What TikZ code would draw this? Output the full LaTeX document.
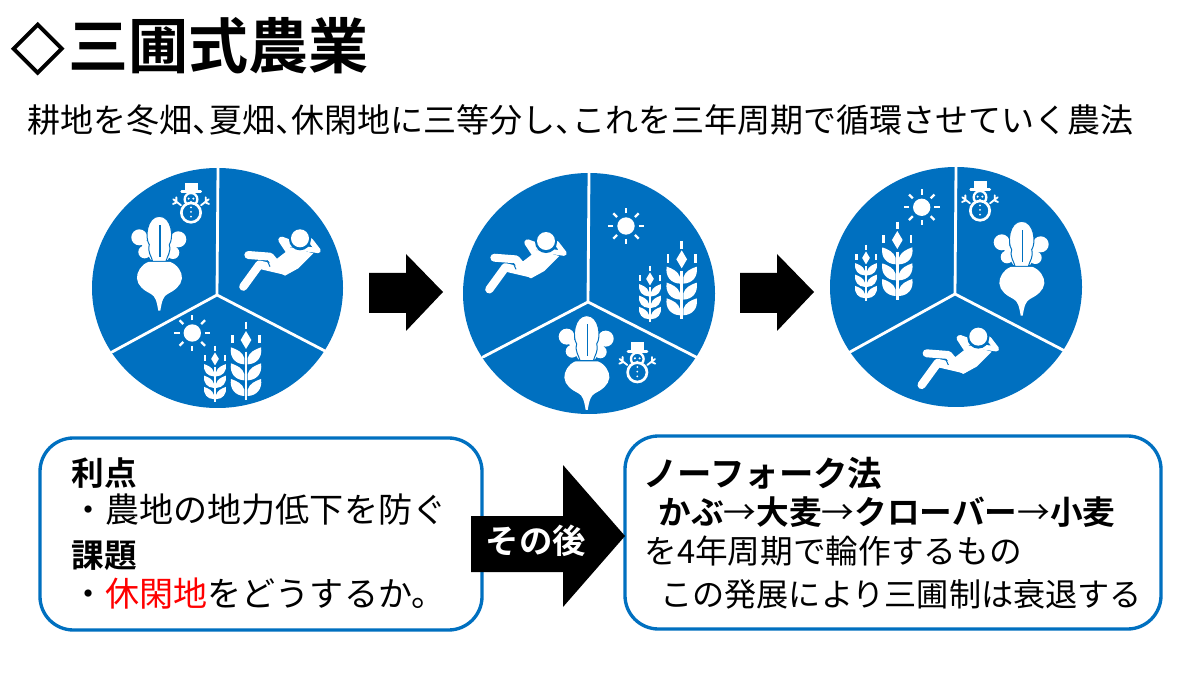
\documentclass[tikz,border=0pt]{standalone}
\usepackage{fontspec}
\setmainfont{Noto Sans CJK JP}[BoldFont={Noto Sans CJK JP Bold}]
\newfontfamily\diamondfont{Noto Sans CJK JP Bold}[FakeBold=3]
\usetikzlibrary{shapes.geometric}
\definecolor{fieldblue}{HTML}{0070C0}
\newcommand{\zpx}{0.189pt}
\newcommand{\hp}{\hbox to .5em{、\hss}}
\tikzset{
  x=0.02cm,y=-0.02cm,
  field/.style={fill=fieldblue,draw=none},
  spoke/.style={draw=white,line width=1.6pt,line cap=round},
  blockarrow/.style={fill=black,draw=none},
  infobox/.style={draw=fieldblue,line width=1.9pt,fill=white,rounded corners=19pt},
  txt/.style={anchor=west,inner sep=0pt,font=\fontsize{18.6pt}{20pt}\selectfont},
  txtwide/.style={anchor=west,inner sep=0pt,font=\fontsize{19.4pt}{21pt}\selectfont},
  txtb/.style={anchor=west,inner sep=0pt,font=\fontsize{18.6pt}{20pt}\selectfont\bfseries},
  turnip/.pic={\begin{scope}[scale=0.3333]
    \fill[white] (-60,-80) circle (24) (-44,-36) circle (19) (57,-74) circle (24) (41,-34) circle (19);
    \fill[white] (-60,-70) -- (-25,-12) -- (25,-12) -- (58,-65) -- (0,-70) -- cycle;
    \fill[white,draw=fieldblue,line width=3*\zpx] (-20,-8) .. controls (-24,-25) and (-36,-35) .. (-30,-58)
      .. controls (-44,-78) and (-38,-143) .. (0,-143)
      .. controls (38,-143) and (44,-78) .. (30,-58)
      .. controls (36,-35) and (24,-25) .. (20,-8) -- cycle;
    \draw[fieldblue,line width=4*\zpx] (2,-117) -- (2,-22);
    \fill[white] (-33,-6) -- (33,-6) .. controls (55,2) and (69,25) .. (68,43)
      .. controls (66,65) and (45,80) .. (25,90) .. controls (12,97) and (8,110) .. (3,140)
      -- (-3,140) .. controls (-8,110) and (-12,97) .. (-25,90)
      .. controls (-45,80) and (-66,65) .. (-67,43) .. controls (-68,25) and (-55,2) .. (-33,-6) -- cycle;
  \end{scope}},
  manicon/.pic={\begin{scope}[scale=0.3333]
    \draw[white,line width=25*\zpx,line cap=round,line join=round] (-110,80) -- (-62,14) -- (15,32);
    \draw[white,line width=24*\zpx,line cap=round,line join=round] (-95,-15) -- (-30,-10) -- (-5,20);
    \fill[white] (-14,0) -- (35,-38) -- (100,-20) -- (55,25) -- (15,47) -- (-15,30) -- cycle;
    \draw[fieldblue,line width=3*\zpx] (-38,2) -- (-30,20);
    \draw[white,line width=20*\zpx,line cap=round,line join=round] (5,-60) -- (38,-48) (5,-60) -- (30,-22);
    \draw[white,line width=15*\zpx,line cap=round,line join=round] (65,-35) -- (115,-28) -- (92,-58);
    \fill[fieldblue] (60,-62) circle (33);
    \fill[white] (60,-65) circle (27);
  \end{scope}},
  sunicon/.pic={\begin{scope}[scale=0.3333]
    \fill[white] (0,0) circle (26);
    \foreach \a in {0,45,...,315}
      \draw[white,line width=7*\zpx] (\a:38) -- (\a:54);
  \end{scope}},
  wheat/.pic={\begin{scope}[scale=0.3333]
    \draw[white,line width=8*\zpx] (0,-115) -- (0,-92) (0,-25) -- (0,120)
      (-41,-75) -- (-41,-50) (41,-75) -- (41,-50);
    \fill[white] (0,-87) -- (16,-60) -- (0,-33) -- (-16,-60) -- cycle;
    \foreach \s in {-1,1} \foreach \d in {0,48,95}
      \fill[white,shift={(0,\d)},xscale=\s] (5,-6) .. controls (10,-24) and (28,-32) .. (45,-38)
        .. controls (50,-8) and (32,12) .. (5,13) -- cycle;
  \end{scope}},
  snowman/.pic={\begin{scope}[scale=0.3333]
    \fill[white] (-19,-62) rectangle (20,-36);
    \draw[white,line width=8*\zpx,line cap=round] (-28,-35) -- (29,-35);
    \draw[white,line width=7*\zpx,fill=fieldblue] (0,-12) circle (19);
    \draw[white,line width=8*\zpx,fill=fieldblue] (0,28) circle (29);
    \fill[white] (-7,-14) circle (3.5) (7,-14) circle (3.5) (0,-4) circle (3)
      (0,12) circle (3) (0,26) circle (3) (0,40) circle (3);
    \draw[white,line width=5.5*\zpx,line cap=round] (-30,6) -- (-53,-12) (-42,-3) -- (-54,2) (-44,-4) -- (-44,-18)
      (30,6) -- (53,-12) (42,-3) -- (54,2) (44,-4) -- (44,-18);
  \end{scope}}
}
\begin{document}
\begin{tikzpicture}
\useasboundingbox (0,0) rectangle (1200,675);
\fill[white] (0,0) rectangle (1200,675);

\node[anchor=west,inner sep=0pt] (title) at (11,46) {\fontsize{30pt}{36pt}\selectfont\diamondfont ◇\hspace{2.5pt}\fontsize{34.2pt}{36pt}\selectfont\bfseries\rmfamily\bfseries 三圃式農業};
\node[anchor=west,inner sep=0pt,font=\fontsize{18.8pt}{20pt}\selectfont] (lead) at (27,120) {耕地を冬畑\hp 夏畑\hp 休閑地に三等分し\hp これを三年周期で循環させていく農法};

% circle 1
\fill[field] (217.5,288) ellipse [x radius=125.5,y radius=120];
\draw[spoke] (218,168) -- (217,295) -- (112,352) (217,295) -- (325,351);
\pic at (159.3,264) {turnip};
\pic at (191,203.3) {snowman};
\pic at (280,260) {manicon};
\pic at (192.3,333) {sunicon};
\pic at (246,360) {wheat};
\pic[scale=.72] at (215,373.3) {wheat};

% circle 2
\fill[field] (589,293.5) ellipse [x radius=126,y radius=120.5];
\draw[spoke] (589,173) -- (588,302) -- (483,357) (588,302) -- (696,357);
\pic at (526,262.7) {manicon};
\pic at (626,226) {sunicon};
\pic at (681.7,279.3) {wheat};
\pic[scale=.72] at (650,293.3) {wheat};
\pic at (637.3,363) {snowman};
\pic at (586.7,363.3) {turnip};

% circle 3
\fill[field] (956,287) ellipse [x radius=126,y radius=120];
\draw[spoke] (956,167) -- (955,294) -- (850,352) (955,294) -- (1063,350);
\pic at (958.3,358.3) {manicon};
\pic at (921.7,207.3) {sunicon};
\pic at (897.3,260) {wheat};
\pic[scale=.72] at (866,272.3) {wheat};
\pic at (980,201.3) {snowman};
\pic at (1021.7,269) {turnip};

% block arrows
\fill[blockarrow] (369,273) -- (406,273) -- (406,254) -- (443,292) -- (406,331) -- (406,313) -- (369,313) -- cycle;
\fill[blockarrow] (740,273) -- (777,273) -- (777,254) -- (814,292) -- (777,331) -- (777,313) -- (740,313) -- cycle;

% boxes
\draw[infobox] (40,438) rectangle (482,630);
\draw[infobox] (625,436) rectangle (1161,629);
\fill[blockarrow] (471,516) -- (563,516) -- (563,465) -- (625,536) -- (563,607) -- (563,572) -- (471,572) -- cycle;
\node[anchor=center,inner sep=0pt,text=white,font=\fontsize{19pt}{20pt}\selectfont\bfseries] (after) at (536,541) {その後};

\node[txtb] (a1) at (71,473) {利点};
\node[txtwide] (a2) at (71,510) {・農地の地力低下を防ぐ};
\node[txtb] (a3) at (71,556) {課題};
\node[txtwide] (a4) at (71,594) {・\textcolor{red}{休閑地}をどうするか。};

\node[anchor=west,inner sep=0pt,font=\fontsize{19.6pt}{21pt}\selectfont\bfseries] (b1) at (643,473) {ノーフォーク法};
\node[txtb] (b2) at (658,512) {かぶ{\mdseries→}大麦{\mdseries→}クローバー{\mdseries→}小麦};
\node[txt] (b3) at (644,551) {を4年周期で輪作するもの};
\node[anchor=west,inner sep=0pt,font=\fontsize{18.3pt}{20pt}\selectfont] (b4) at (660,594) {この発展により三圃制は衰退する};
\end{tikzpicture}
\end{document}
